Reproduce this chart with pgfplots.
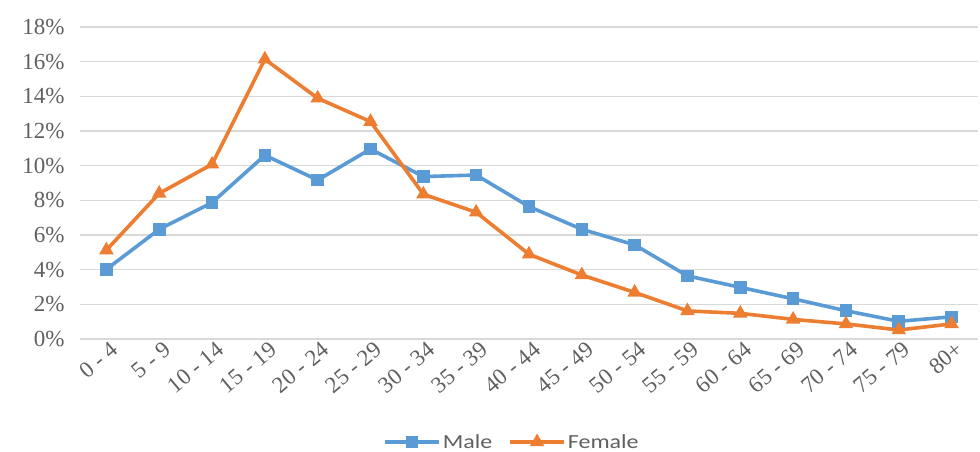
\documentclass[border=0pt]{standalone}
\usepackage{fontspec}
\setmainfont{Carlito}
\newfontfamily\tickfont{Liberation Serif}
\newfontfamily\legfont[FakeStretch=1.2]{Carlito}
\usepackage{pgfplots}
\pgfplotsset{compat=1.18}

\definecolor{male}{HTML}{5B9BD5}
\definecolor{female}{HTML}{ED7D31}
\definecolor{gridc}{HTML}{D9D9D9}
\definecolor{txt}{HTML}{606060}

\begin{document}
\begin{tikzpicture}
\begin{axis}[
  name=ax,
  scale only axis,
  width=898bp, height=312bp,
  xmin=-0.5, xmax=16.5,
  ymin=0, ymax=18,
  ytick={0,2,...,18},
  yticklabel={\pgfmathprintnumber{\tick}\%},
  xtick={0,...,16},
  xticklabels={0 - 4,5 - 9,10 - 14,15 - 19,20 - 24,25 - 29,30 - 34,35 - 39,40 - 44,45 - 49,50 - 54,55 - 59,60 - 64,65 - 69,70 - 74,75 - 79,80+},
  x tick label style={rotate=40, anchor=east, xshift=5bp, yshift=-11bp},
  y tick label style={xshift=-12bp},
  /pgf/number format/assume math mode=true,
  tick label style={font=\tickfont\fontsize{23bp}{26bp}\selectfont, text=txt},
  major tick length=0pt,
  axis line style={draw=none},
  ymajorgrids,
  grid style={gridc, line width=1.2bp},
  legend style={at={(0.481,-0.33)}, anchor=center, draw=none, fill=none,
    font=\legfont\fontsize{20bp}{22bp}\selectfont, text=txt, legend columns=2,
    inner sep=0pt,
    /tikz/every odd column/.append style={column sep=0bp},
    /tikz/every even column/.append style={column sep=14bp}},
  legend image code/.code={
    \draw[#1, mark repeat=2, mark phase=2] plot coordinates {(0bp,0bp) (27bp,0bp) (54bp,0bp)};
  },
  every axis plot/.append style={line width=3.6bp},
]
\addplot[male, mark=square*, mark size=4.5bp, mark options={solid}] coordinates {
  (0,4.02) (1,6.33) (2,7.87) (3,10.60) (4,9.17) (5,10.96) (6,9.37) (7,9.46)
  (8,7.64) (9,6.33) (10,5.43) (11,3.64) (12,2.98) (13,2.32) (14,1.63) (15,1.02) (16,1.28)
};
\addlegendentry{Male}
\addplot[female, mark=triangle*, mark size=4.8bp, mark options={solid}] coordinates {
  (0,5.13) (1,8.40) (2,10.08) (3,16.14) (4,13.89) (5,12.54) (6,8.35) (7,7.31)
  (8,4.89) (9,3.69) (10,2.69) (11,1.62) (12,1.48) (13,1.13) (14,0.87) (15,0.52) (16,0.87)
};
\addlegendentry{Female}
\end{axis}
\pgfresetboundingbox
\useasboundingbox ([shift={(-80bp,-113bp)}]ax.south west) rectangle ++(980bp,452bp);
\end{tikzpicture}
\end{document}
